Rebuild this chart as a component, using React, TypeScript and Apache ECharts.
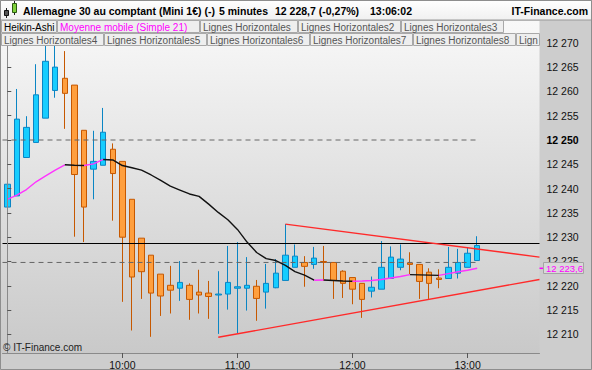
import React, { useEffect, useRef } from 'react';
import * as echarts from 'echarts';

// ---------- data ----------
const times: string[] = Array.from({ length: 56 }, (_, i) => {
  const m = 9 * 60 + 5 * i;
  return `${String(Math.floor(m / 60)).padStart(2, '0')}:${String(m % 60).padStart(2, '0')}`;
});

const haOpen = [
  12236.2, 12238.5, 12246.4, 12249.5, 12254.5, 12260.2, 12262.7, 12261.3, 12252.0, 12244.0,
  12244.8, 12248.1, 12245.6, 12237.8, 12229.8, 12226.3, 12222.4, 12220.1, 12219.5, 12220.1,
  12218.7, 12218.5, 12218.1, 12218.3, 12219.5, 12219.5, 12219.9, 12218.7, 12219.6, 12221.1,
  12223.8, 12224.8, 12224.4, 12225.0, 12224.8, 12223.0, 12221.7, 12220.5, 12218.9, 12219.3,
  12221.5, 12223.8, 12224.7, 12224.4, 12222.8, 12221.6, 12221.5, 12222.6, 12223.8, 12225.2,
];
const haClose = [
  12240.9, 12254.3, 12252.6, 12259.3, 12266.2, 12265.0, 12259.6, 12242.9, 12236.2, 12245.6,
  12251.6, 12243.1, 12230.0, 12221.8, 12222.9, 12218.5, 12217.9, 12219.1, 12220.7, 12217.2,
  12218.1, 12217.8, 12218.3, 12220.7, 12219.8, 12220.1, 12217.4, 12220.5, 12222.6, 12226.3,
  12226.1, 12224.0, 12225.7, 12224.8, 12221.1, 12220.5, 12219.3, 12217.2, 12219.7, 12223.8,
  12225.9, 12225.5, 12224.4, 12220.9, 12220.5, 12221.3, 12223.8, 12224.8, 12226.7, 12228.3,
];
const haLow = [
  12218.5, 12238.5, 12246.4, 12249.5, 12254.5, 12258.7, 12252.3, 12230.1, 12229.0, 12237.8,
  12244.8, 12233.4, 12216.7, 12210.8, 12217.3, 12209.5, 12213.8, 12214.3, 12216.9, 12213.0,
  12214.3, 12213.2, 12210.1, 12215.1, 12210.2, 12214.9, 12212.8, 12215.3, 12219.5, 12221.1,
  12223.8, 12219.8, 12223.5, 12221.0, 12217.3, 12217.5, 12216.2, 12213.4, 12217.6, 12219.3,
  12221.5, 12223.2, 12222.4, 12217.3, 12217.3, 12219.5, 12221.5, 12221.5, 12223.8, 12225.2,
];
const haHigh = [
  12259.7, 12260.5, 12254.9, 12265.6, 12272.0, 12271.0, 12268.3, 12261.3, 12252.0, 12251.9,
  12256.6, 12249.3, 12245.6, 12237.8, 12229.8, 12226.3, 12222.4, 12224.1, 12225.1, 12220.5,
  12223.3, 12221.0, 12223.0, 12228.2, 12229.0, 12225.9, 12221.2, 12224.5, 12225.5, 12232.7,
  12228.5, 12226.1, 12228.0, 12228.2, 12224.8, 12223.2, 12221.7, 12220.5, 12221.9, 12229.2,
  12228.1, 12228.5, 12226.9, 12224.4, 12223.6, 12223.4, 12228.0, 12227.6, 12227.9, 12230.2,
];
const sma21 = [
  12237.76, 12238.68, 12239.8, 12241.4, 12242.6, 12243.8, 12244.9, 12244.8, 12244.75, 12245.1,
  12246.0, 12245.9, 12244.75, 12244.3, 12243.8, 12242.8, 12241.7, 12240.5, 12239.7, 12238.9,
  12238.4, 12236.8, 12235.1, 12233.6, 12231.6, 12229.0, 12226.85, 12225.6, 12225.2, 12224.2,
  12222.9, 12222.2, 12221.15, 12221.2, 12221.1, 12221.0, 12220.95, 12221.0, 12221.1, 12221.3,
  12221.6, 12221.9, 12222.3, 12222.25, 12222.2, 12222.15, 12222.5, 12222.9, 12223.2, 12223.6,
];

const yTicks = [12210, 12215, 12220, 12225, 12230, 12235, 12240, 12245, 12250, 12255, 12260, 12265, 12270];
const boldTick = 12250;
const lastPrice = 12228.7;
const dashedLevels = [12250, 12224.8];
const upperTrend = [[29, 12232.7], [55.5, 12225.9]];
const lowerTrend = [[22, 12209.4], [55.5, 12221.3]];
const Y_MIN = 12206.17;
const Y_MAX = 12274.49;

const legendRow1: [string, number, number, string][] = [
  ['Heikin-Ashi', 1, 56, '#000000'],
  ['Moyenne mobile (Simple 21)', 57, 199, '#ff00ff'],
  ['Lignes Horizontales', 200, 297, '#555555'],
  ['Lignes Horizontales2', 298, 400, '#555555'],
  ['Lignes Horizontales3', 401, 503, '#555555'],
];
const legendRow2: [string, number, number, string][] = [
  ['Lignes Horizontales4', 1, 103, '#555555'],
  ['Lignes Horizontales5', 104, 206, '#555555'],
  ['Lignes Horizontales6', 207, 309, '#555555'],
  ['Lignes Horizontales7', 310, 412, '#555555'],
  ['Lignes Horizontales8', 413, 515, '#555555'],
  ['Lign', 516, 539, '#555555'],
];

const FONT = '"Liberation Sans", Arial, sans-serif';

const fmtThousands = (v: number) => `${Math.floor(v / 1000)} ${String(Math.round(v) % 1000).padStart(3, '0')}`;
const fmtDec = (v: number) => {
  const i = Math.floor(v);
  const d = Math.round((v - i) * 10);
  return `${fmtThousands(i)},${d}`;
};

function maRuns() {
  const runs: { up: boolean; pts: number[][] }[] = [];
  for (let i = 1; i < sma21.length; i++) {
    const up = sma21[i] >= sma21[i - 1];
    const last = runs[runs.length - 1];
    if (last && last.up === up) last.pts.push([i, sma21[i]]);
    else runs.push({ up, pts: [[i - 1, sma21[i - 1]], [i, sma21[i]]] });
  }
  return runs;
}

function legendBoxes(row: [string, number, number, string][], y0: number) {
  const out: any[] = [];
  row.forEach(([text, x0, x1, color]) => {
    out.push({
      type: 'rect', z: 60,
      shape: { x: x0 + 0.5, y: y0 + 0.5, width: x1 - x0, height: 12 },
      style: { fill: '#eeeeee', stroke: '#a8a8a8', lineWidth: 1 },
    });
    out.push({
      type: 'text', z: 61, x: x0 + 3, y: y0 + 7,
      style: { text, fill: color, font: `10px ${FONT}`, verticalAlign: 'middle' },
    });
  });
  return out;
}

function baseGraphics() {
  const g: any[] = [];
  // plot background
  g.push({
    type: 'rect', z: -5, silent: true,
    shape: { x: 1, y: 21, width: 538.5, height: 332 },
    style: { fill: new echarts.graphic.LinearGradient(0, 0, 0, 1, [
      { offset: 0, color: '#f8f8f8' }, { offset: 1, color: '#c9c9c9' },
    ]) },
  });
  // title bar
  g.push({
    type: 'rect', z: 60,
    shape: { x: 0, y: 0, width: 592, height: 20 },
    style: { fill: new echarts.graphic.LinearGradient(0, 0, 0, 1, [
      { offset: 0, color: '#ffffff' }, { offset: 1, color: '#f0f0f0' },
    ]), stroke: '#9a9a9a', lineWidth: 1 },
  });
  // icon
  g.push({ type: 'line', z: 61, shape: { x1: 6.5, y1: 8, x2: 6.5, y2: 18 }, style: { stroke: '#222', lineWidth: 1 } });
  g.push({ type: 'rect', z: 62, shape: { x: 4.5, y: 10.5, width: 4, height: 5 }, style: { fill: '#555', stroke: '#111', lineWidth: 1 } });
  g.push({ type: 'line', z: 61, shape: { x1: 14.5, y1: 1, x2: 14.5, y2: 15 }, style: { stroke: '#222', lineWidth: 1 } });
  g.push({ type: 'rect', z: 62, shape: { x: 12.5, y: 3.5, width: 4, height: 9 }, style: { fill: '#7fd13b', stroke: '#2b5a10', lineWidth: 1 } });
  const titleFont = `bold 10.5px ${FONT}`;
  const titles: [string, number][] = [
    ['Allemagne 30 au comptant (Mini 1€) (-)', 23],
    ['5 minutes', 219],
    [`${fmtDec(lastPrice)} (-0,27%)`, 275],
    ['13:06:02', 370],
  ];
  titles.forEach(([t, x]) => g.push({ type: 'text', z: 63, x, y: 10.5, style: { text: t, font: titleFont, fill: '#000', verticalAlign: 'middle' } }));
  g.push({ type: 'text', z: 63, x: 588, y: 10.5, style: { text: 'IT-Finance.com', font: titleFont, fill: '#000', verticalAlign: 'middle', align: 'right' } });
  g.push(...legendBoxes(legendRow1, 20));
  g.push(...legendBoxes(legendRow2, 33));
  // footer
  g.push({ type: 'text', z: 60, x: 3, y: 347, style: { text: '© IT-Finance.com', font: `10px ${FONT}`, fill: '#222', verticalAlign: 'middle' } });
  // outer frame
  g.push({ type: 'rect', z: 80, silent: true, shape: { x: 0.5, y: 0.5, width: 591, height: 369 }, style: { fill: 'none', stroke: '#8e8e8e', lineWidth: 1 } });
  return g;
}

function maLabel(y: number) {
  return [
    { type: 'line', z: 70, shape: { x1: 539.5, y1: y, x2: 544, y2: y }, style: { stroke: '#ff00ff', lineWidth: 1.5 } },
    { type: 'rect', z: 70, shape: { x: 543.5, y: Math.round(y) - 5.5, width: 40, height: 11 }, style: { fill: '#d9d9d9', stroke: '#a4a4a4', lineWidth: 1 } },
    { type: 'text', z: 71, x: 546, y: Math.round(y) + 0.5, style: { text: fmtDec(sma21[sma21.length - 1]), font: `9.5px ${FONT}`, fill: '#ff00ff', verticalAlign: 'middle' } },
  ];
}

function buildOption(maY: number | null) {
  const runs = maRuns();
  const series: any[] = [
    {
      type: 'candlestick', xAxisIndex: 0, yAxisIndex: 0, z: 2, barWidth: 6,
      data: haOpen.map((o, i) => [o, haClose[i], haLow[i], haHigh[i]]),
      itemStyle: {
        color: '#16cdff', color0: '#ff9f3e',
        borderColor: '#0a85c4', borderColor0: '#c65800', borderWidth: 1,
      },
    },
    ...dashedLevels.map((lv) => ({
      type: 'line', xAxisIndex: 1, yAxisIndex: 0, z: 3, symbol: 'none', silent: true,
      data: [[-0.5, lv], [49, lv]],
      lineStyle: { color: '#666666', width: 1, type: [5, 4] },
    })),
    {
      type: 'line', xAxisIndex: 1, yAxisIndex: 0, z: 3, symbol: 'none', silent: true,
      data: [[-0.5, lastPrice], [55.5, lastPrice]],
      lineStyle: { color: '#000000', width: 1.2 },
    },
    ...runs.map((r) => ({
      type: 'line', xAxisIndex: 1, yAxisIndex: 0, z: 4, symbol: 'none', silent: true,
      data: r.pts,
      lineStyle: { color: r.up ? '#ff33ff' : '#111111', width: 1.4 },
    })),
    ...[upperTrend, lowerTrend].map((t) => ({
      type: 'line', xAxisIndex: 1, yAxisIndex: 0, z: 5, symbol: 'none', silent: true,
      data: t,
      lineStyle: { color: '#ff2a2a', width: 1.4 },
    })),
  ];
  return {
    animation: false,
    backgroundColor: '#cdcdcd',
    grid: { left: 2.5, right: 52.5, top: 21, bottom: 17, containLabel: false },
    xAxis: [
      {
        type: 'category', data: times, boundaryGap: true, z: 10,
        axisLine: { show: true, lineStyle: { color: '#8a8a8a' } },
        axisTick: {
          show: true, alignWithLabel: true, length: 5, lineStyle: { color: '#555' },
          interval: (idx: number, v: string) => idx > 0 && v.endsWith(':00'),
        },
        axisLabel: {
          interval: (idx: number, v: string) => idx > 0 && v.endsWith(':00'),
          fontSize: 10.5, fontFamily: FONT, color: '#111', margin: 6,
        },
        splitLine: { show: false },
      },
      { type: 'value', min: -0.5, max: 55.5, show: false },
    ],
    yAxis: [
      {
        type: 'value', position: 'right', min: Y_MIN, max: Y_MAX, z: 10, scale: true,
        axisLine: { show: true, lineStyle: { color: '#8a8a8a' } },
        axisTick: { show: true, length: 4, customValues: yTicks, lineStyle: { color: '#555' } },
        axisLabel: {
          customValues: yTicks, margin: 7, fontSize: 10.5, fontFamily: FONT, color: '#111',
          formatter: (v: number) => (Math.round(v) === boldTick ? `{b|${fmtThousands(v)}}` : fmtThousands(v)),
          rich: { b: { fontWeight: 'bold', fontSize: 10.5, fontFamily: FONT, color: '#000' } },
        },
        splitLine: { show: false },
      },
    ],
    series,
    graphic: [...baseGraphics(), ...(maY != null ? maLabel(maY) : [])],
  };
}

export default function App() {
  const ref = useRef<HTMLDivElement>(null);
  useEffect(() => {
    const chart = echarts.init(ref.current!, null, { renderer: 'svg' });
    chart.setOption(buildOption(null) as any);
    const maY = chart.convertToPixel({ yAxisIndex: 0 } as any, sma21[sma21.length - 1]) as unknown as number;
    chart.setOption(buildOption(maY) as any, true);
    return () => chart.dispose();
  }, []);
  return <div ref={ref} style={{ position: 'fixed', left: 0, top: 0, width: 592, height: 370 }} />;
}
